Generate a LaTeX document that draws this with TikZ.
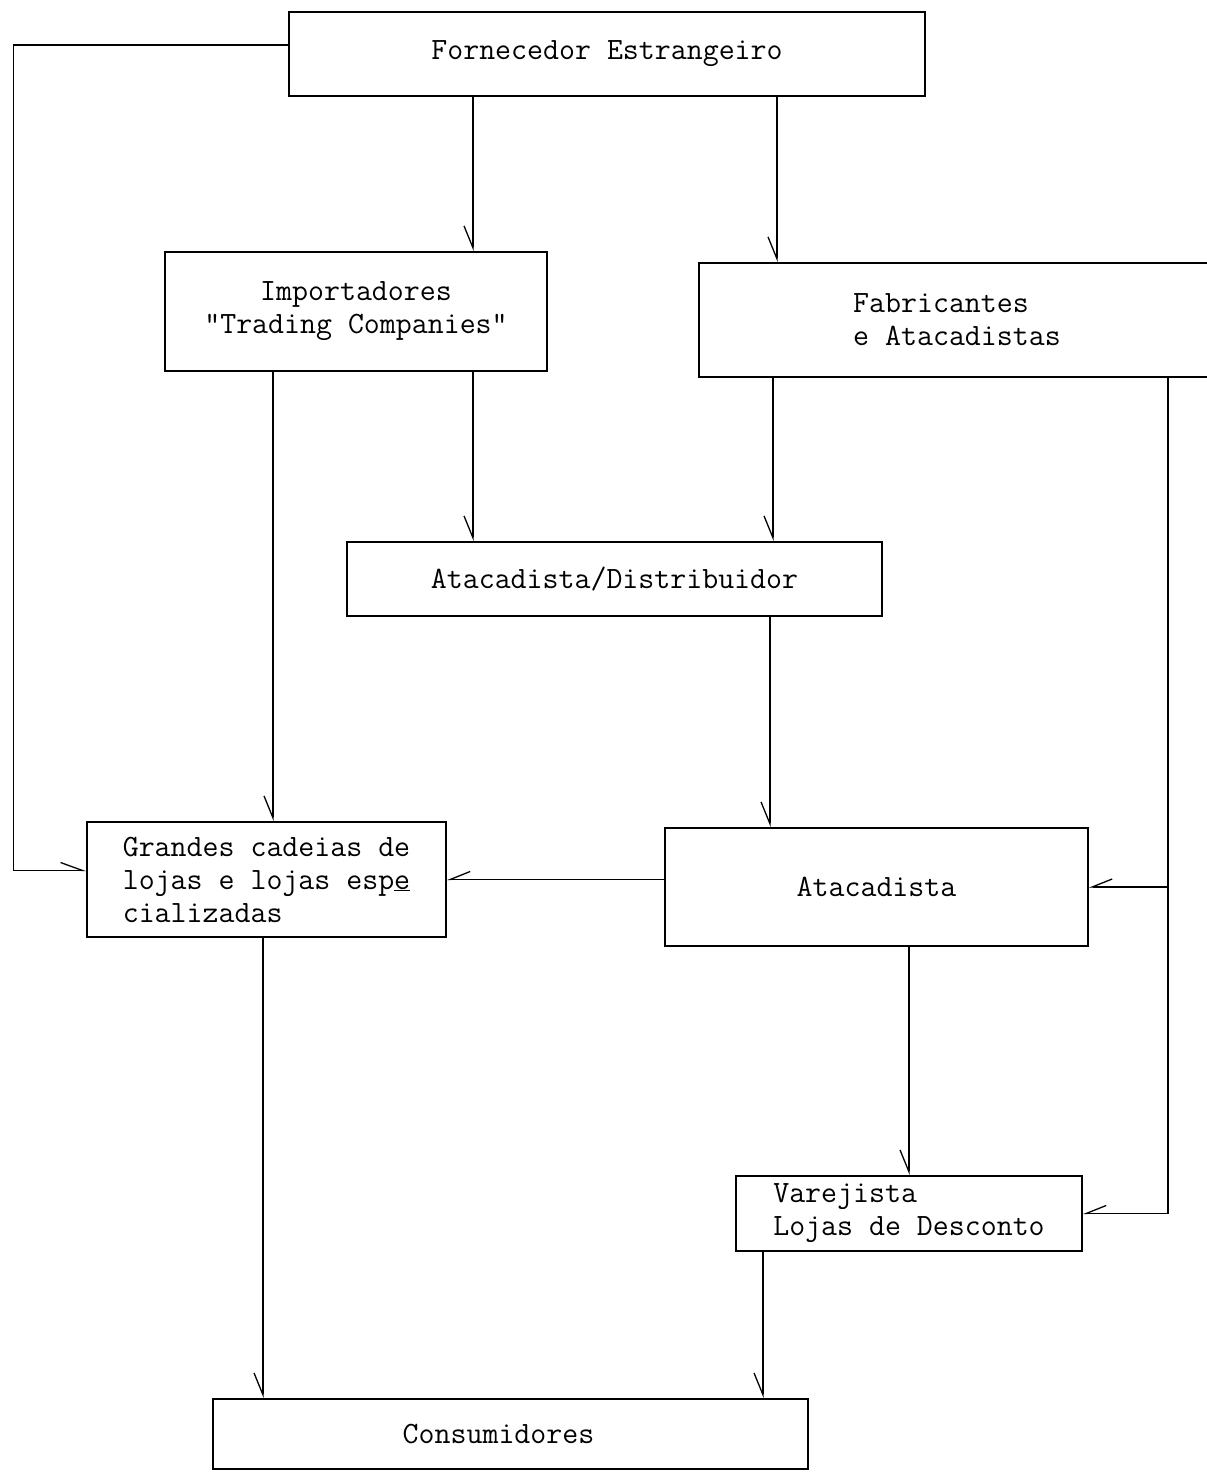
\documentclass[tikz,border=0pt]{standalone}
\usepackage{fontspec}
\usetikzlibrary{arrows.meta}
\begin{document}
\begin{tikzpicture}[x=1pt,y=-1pt,
  box/.style={draw, line width=1.6pt, inner sep=0pt,
    font=\ttfamily\fontsize{31}{33}\selectfont},
  conn/.style={line width=1.3pt},
  dn/.style={conn, -{Straight Barb[harpoon,swap,length=22pt,width=18pt]}},
  rt/.style={conn, -{Straight Barb[harpoon,length=22pt,width=16pt]}},
  lt/.style={conn, -{Straight Barb[harpoon,swap,length=20pt,width=16pt]}}]
\fill[white] (0,0) rectangle (1207,1473);
\useasboundingbox (0,0) rectangle (1207,1473);

% boxes
\node[box, minimum width=636pt, minimum height=84pt] (forn) at (607,54) {Fornecedor Estrangeiro};
\node[box, align=center, minimum width=382pt, minimum height=119pt] (imp) at (356,311.5) {Importadores\\"Trading Companies"};
\node[box, align=left, minimum width=516pt, minimum height=114pt] (fab) at (957,320) {Fabricantes\\e Atacadistas};
\node[box, minimum width=535pt, minimum height=74pt] (ad) at (614.5,579) {Atacadista/Distribuidor};
\node[box, align=left, minimum width=359pt, minimum height=115pt] (gr) at (266.5,879.5) {Grandes cadeias de\\lojas e lojas esp\underline{e}\\cializadas};
\node[box, minimum width=423pt, minimum height=118pt] (at) at (876.5,887) {Atacadista};
\node[box, align=left, minimum width=346pt, minimum height=75pt] (va) at (909,1213.5) {Varejista\\Lojas de Desconto};
\node[box, minimum width=595pt, minimum height=70pt] (co) at (510.5,1434) {\hspace*{-24pt}Consumidores};

% connectors
\draw[rt] ([yshift=9pt]forn.west) -| ([xshift=-73pt,yshift=9pt]gr.west) -- ([yshift=9pt]gr.west);
\draw[dn] ([xshift=-134pt]forn.south) -- ([xshift=117pt]imp.north);
\draw[dn] ([xshift=170pt]forn.south) -- ([xshift=-180pt]fab.north);
\draw[dn] ([xshift=117pt]imp.south) -- ([xshift=-141.5pt]ad.north);
\draw[dn] ([xshift=-83pt]imp.south) -- ([xshift=6.5pt]gr.north);
\draw[dn] ([xshift=-184pt]fab.south) -- ([xshift=158.5pt]ad.north);
\draw[dn] ([xshift=155.5pt]ad.south) -- ([xshift=-106.5pt]at.north);
\draw[lt] (at.west |- gr.east) -- (gr.east);
\draw[dn] (at.south -| va.north) -- (va.north);
\draw[lt] ([xshift=211pt]fab.south) coordinate (f1) |- (va.east);
\draw[lt] (f1 |- at.east) -- (at.east);
\draw[dn] ([xshift=-3.5pt]gr.south) coordinate (g1) -- (g1 |- co.north);
\draw[dn] ([xshift=-146pt]va.south) coordinate (v1) -- (v1 |- co.north);
\end{tikzpicture}
\end{document}
